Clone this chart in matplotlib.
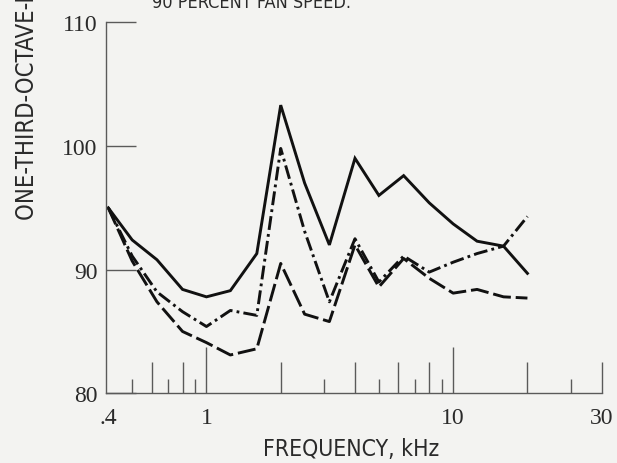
import matplotlib
matplotlib.use('agg')
import matplotlib.pyplot as plt
from matplotlib import font_manager
from matplotlib.ticker import NullFormatter

# one-third-octave band centre frequencies, kHz
freq = [0.4, 0.5, 0.63, 0.8, 1.0, 1.25, 1.6, 2.0, 2.5, 3.15,
        4.0, 5.0, 6.3, 8.0, 10.0, 12.5, 16.0, 20.0]

# band levels, dB, one list per configuration
level_solid = [95.0, 92.4, 90.8, 88.4, 87.8, 88.3, 91.3, 103.3, 97.0, 92.0,
               99.0, 96.0, 97.6, 95.4, 93.7, 92.3, 91.9, 89.7]
level_dashdot = [95.0, 91.1, 88.2, 86.6, 85.4, 86.7, 86.3, 99.8, 93.1, 87.4,
                 92.5, 89.0, 91.1, 89.8, 90.6, 91.3, 91.9, 94.3]
level_dashed = [95.0, 90.7, 87.4, 85.0, 84.1, 83.1, 83.6, 90.5, 86.4, 85.8,
                92.0, 88.6, 90.9, 89.3, 88.1, 88.4, 87.8, 87.7]

xlabel_pos = [0.4, 1, 10, 40]
xlabel_txt = ['.4', '1', '10', '30']
ticks_long = [1, 10]
ticks_mid = [0.6, 0.8, 2, 4, 6, 8, 20, 40]
ticks_short = [0.5, 0.7, 0.9, 3, 5, 7, 9, 30]
yticks = [80, 90, 100, 110]

# condensed sans for the captions if available
try:
    font_manager.findfont(font_manager.FontProperties(family='Liberation Sans Narrow'),
                          fallback_to_default=False)
    cap_font = dict(family='Liberation Sans Narrow')
except ValueError:
    cap_font = dict(family='DejaVu Sans', stretch='condensed')
num_font = dict(family='Liberation Serif')

plt.rcParams['lines.scale_dashes'] = False
bg = '#f3f3f1'
ink = '#111111'
axc = '#5a5a5a'
txt = '#2a2a2a'

fig = plt.figure(figsize=(6.17, 4.64), dpi=100, facecolor=bg)
ax = fig.add_axes([0.1713, 0.1502, 0.8039, 0.7996])
ax.set_facecolor(bg)

lw = 2.1
ax.plot(freq, level_solid, color=ink, lw=lw, solid_joinstyle='miter')
ax.plot(freq, level_dashdot, color=ink, lw=lw, linestyle=(0, (10, 3, 2, 3)))
ax.plot(freq, level_dashed, color=ink, lw=lw, linestyle=(0, (13, 3.5)))

ax.set_xscale('log')
ax.set_xlim(0.3905, 40)
ax.set_ylim(80, 110)

for s in ['top', 'right']:
    ax.spines[s].set_visible(False)
for s in ['left', 'bottom']:
    ax.spines[s].set_color(axc)
    ax.spines[s].set_linewidth(1.0)

# labels only on the main x axis
ax.set_xticks(xlabel_pos, xlabel_txt, **num_font, fontsize=17, color=txt)
ax.set_xticks(ticks_short, minor=True)
ax.xaxis.set_minor_formatter(NullFormatter())
ax.tick_params(axis='x', which='major', length=0, pad=10)
ax.tick_params(axis='x', which='minor', direction='in', length=10, width=1.0, color=axc)

# longer tick marks on a second x axis
sec = ax.secondary_xaxis('bottom')
sec.set_xticks(ticks_long)
sec.set_xticks(ticks_mid, minor=True)
sec.spines['bottom'].set_visible(False)
sec.tick_params(axis='x', which='both', direction='in', labelbottom=False, color=axc, width=1.0)
sec.tick_params(axis='x', which='major', length=33)
sec.tick_params(axis='x', which='minor', length=22)

ax.set_yticks(yticks, [str(v) for v in yticks], **num_font, fontsize=17, color=txt)
ax.tick_params(axis='y', direction='in', length=21.5, width=1.0, color=axc, pad=6)

ax.set_xlabel('FREQUENCY, kHz', fontsize=16.5, color=txt, **cap_font)
ax.xaxis.set_label_coords(0.4946, -0.150)
ax.xaxis.label.set_va('center')

fig.text(27.5 / 617, 1 - 220 / 464, 'ONE-THIRD-OCTAVE-BAND SOUND PRESSURE LEVEL, dB',
         rotation=90, ha='center', va='bottom', fontsize=17, color=txt, **cap_font)
fig.text(152 / 617, 1 - 8 / 464, '90 PERCENT FAN SPEED.', ha='left', va='baseline',
         fontsize=13, color=txt, **cap_font)

fig.savefig('out.png', dpi=100, facecolor=bg)
